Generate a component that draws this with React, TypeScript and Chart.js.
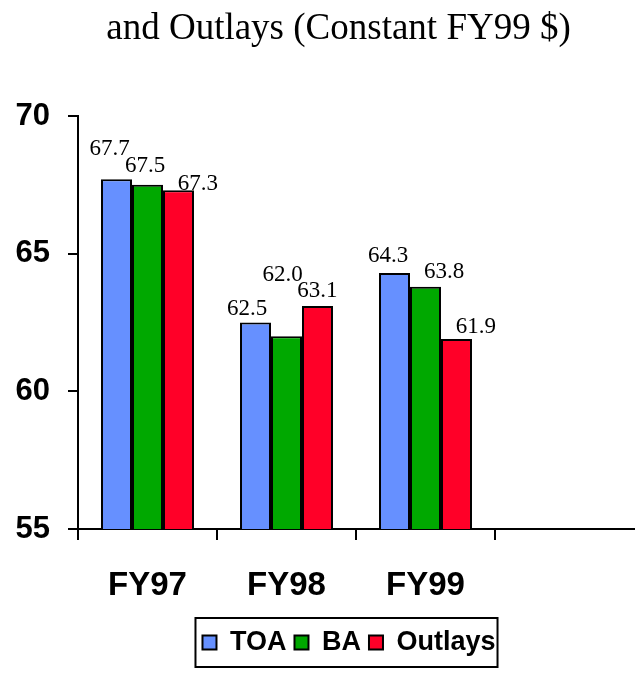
import React, { useEffect, useRef } from "react";
import { Chart, registerables } from "chart.js";

Chart.register(...registerables);

// ---- data ----
const categories = ["FY97", "FY98", "FY99", ""];
const seriesNames = ["TOA", "BA", "Outlays"];
const toaValues = [67.7, 62.5, 64.3];
const baValues = [67.5, 62.0, 63.8];
const outlayValues = [67.3, 63.1, 61.9];
const yTickValues = [55, 60, 65, 70];
const titleText = "and Outlays (Constant FY99 $)";

// ---- styles ----
const COLORS = ["#6690ff", "#00a800", "#ff0028"];
const SANS = "'Liberation Sans', Arial, sans-serif";
const SERIF = "'Liberation Serif', 'Times New Roman', serif";
const TITLE_CENTER_X = 338.5;
const LEGEND_CENTER_X = 349;
// value-label nudges (px) from each bar's top centre, per series / category
const LABEL_DX = [
  [-7, -8.5, -6.5],
  [-2.5, -4, 18.5],
  [19.5, 0, 19.5],
];
const LABEL_DY = [
  [-24, -7.5, -11],
  [-13, -55.6, -9],
  [0, -9.3, -6],
];

const valueLabels = {
  id: "valueLabels",
  afterDatasetsDraw(chart: any) {
    const ctx = chart.ctx;
    ctx.save();
    ctx.font = `23px ${SERIF}`;
    ctx.fillStyle = "#000";
    ctx.textAlign = "center";
    ctx.textBaseline = "alphabetic";
    chart.data.datasets.forEach((ds: any, i: number) => {
      const meta = chart.getDatasetMeta(i);
      meta.data.forEach((el: any, j: number) => {
        const v = ds.data[j];
        if (v == null) return;
        ctx.fillText(Number(v).toFixed(1), el.x + LABEL_DX[i][j], el.y + LABEL_DY[i][j]);
      });
    });
    ctx.restore();
  },
};

const centerShift = {
  id: "centerShift",
  afterLayout(chart: any) {
    const shift = (box: any, target: number) => {
      if (!box) return;
      const d = target - (box.left + box.right) / 2;
      box.left += d;
      box.right += d;
    };
    shift(chart.titleBlock, TITLE_CENTER_X);
    shift(chart.legend, LEGEND_CENTER_X);
  },
};

const legendFrame = {
  id: "legendFrame",
  afterDraw(chart: any) {
    const lg = chart.legend;
    const hb = lg && lg.legendHitBoxes;
    if (!hb || !hb.length) return;
    const first = hb[0];
    const last = hb[hb.length - 1];
    const cy = first.top + first.height / 2;
    const left = first.left - 7;
    const right = last.left + last.width + 2;
    const ctx = chart.ctx;
    ctx.save();
    ctx.strokeStyle = "#000";
    ctx.lineWidth = 2;
    ctx.strokeRect(left, cy - 24.5, right - left, 49);
    ctx.restore();
  },
};

export default function App() {
  const ref = useRef<HTMLCanvasElement | null>(null);

  useEffect(() => {
    document.body.style.margin = "0";
    const canvas = ref.current;
    if (!canvas) return;
    const values = [toaValues, baValues, outlayValues];
    const chart = new Chart(canvas, {
      type: "bar",
      data: {
        labels: categories,
        datasets: seriesNames.map((name, i) => ({
          label: name,
          data: values[i],
          backgroundColor: COLORS[i],
          borderColor: "#000",
          borderWidth: 2,
          categoryPercentage: 0.669,
          barPercentage: 1,
        })),
      },
      options: {
        responsive: false,
        animation: false,
        layout: { padding: { left: 0, right: 3, top: 0, bottom: 11 } },
        plugins: {
          title: {
            display: true,
            text: titleText,
            color: "#000",
            font: { family: SERIF, size: 37, weight: "normal" },
            padding: { top: 7, bottom: 64.6 },
          },
          legend: {
            display: true,
            position: "bottom",
            align: "center",
            labels: {
              boxWidth: 14,
              boxHeight: 14,
              padding: 8,
              color: "#000",
              font: { family: SANS, size: 27, weight: "bold" },
            },
          },
          tooltip: { enabled: false },
        },
        scales: {
          x: {
            ticks: {
              color: "#000",
              font: { family: SANS, size: 33, weight: "bold" },
              padding: 26,
              maxRotation: 0,
            },
            grid: {
              offset: true,
              drawOnChartArea: false,
              drawTicks: true,
              tickLength: 11,
              color: (c: any) => (c.type === "tick" ? "#000" : "rgba(0,0,0,0)"),
              lineWidth: 2,
            },
            border: { display: true, color: "#000", width: 2 },
            afterFit: (s: any) => {
              s.height = 92;
            },
          },
          y: {
            min: 55,
            max: 70,
            afterBuildTicks: (s: any) => {
              s.ticks = yTickValues.map((v) => ({ value: v }));
            },
            ticks: {
              color: "#000",
              font: { family: SANS, size: 31, weight: "bold" },
              padding: 18,
            },
            grid: {
              drawOnChartArea: false,
              drawTicks: true,
              tickLength: 10,
              color: "#000",
              lineWidth: 2,
            },
            border: { display: true, color: "#000", width: 2 },
            afterFit: (s: any) => {
              s.width = 78;
            },
          },
        },
      },
      plugins: [valueLabels, centerShift, legendFrame],
    });
    return () => chart.destroy();
  }, []);

  return (
    <canvas
      ref={ref}
      width={637}
      height={677}
      style={{ display: "block", width: "637px", height: "677px" }}
    />
  );
}
